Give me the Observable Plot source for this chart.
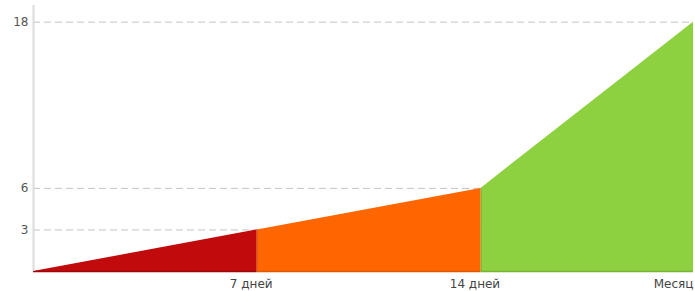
<!DOCTYPE html>
<html><head><meta charset="utf-8">
<script src="https://cdn.jsdelivr.net/npm/d3@7"></script>
<script src="https://cdn.jsdelivr.net/npm/@observablehq/plot@0.6"></script>
<style>
html,body{margin:0;padding:0;background:#fff;}
#chart svg{display:block;}
</style>
</head><body><div id="chart"></div>
<script>
// x positions (days; the "month" point)
const xPositions = [0, 7, 14, 20.65];
const xLabels = ["", "7 дней", "14 дней", "Месяц"];
const values = [0, 3, 6, 18];
const yTicks = [3, 6, 18];
const segmentColors = ["#c00a0c", "#ff6600", "#8dd040"];
const segmentStrokes = ["#a00608", "#e05800", "#78b534"];

const segs = [];
for (let i = 0; i < 3; i++) {
  segs.push({seg: i, x: xPositions[i], y: values[i]});
  segs.push({seg: i, x: xPositions[i + 1], y: values[i + 1]});
}
const labelData = xPositions.map((x, i) => ({x, label: xLabels[i]})).filter(d => d.label);
const midLabels = labelData.slice(0, -1);
const lastLabel = labelData.slice(-1);

const font = "'DejaVu Sans', Verdana, sans-serif";
const chart = Plot.plot({
  width: 695,
  height: 291,
  marginLeft: 33,
  marginRight: 2,
  marginTop: 5,
  marginBottom: 20,
  style: {fontFamily: font, fontSize: "12px", color: "#555", background: "#fff"},
  x: {domain: [0, 20.65], axis: null},
  y: {domain: [0, 19.2], axis: null},
  marks: [
    Plot.gridY(yTicks, {stroke: "#c4c4c4", strokeOpacity: 1, strokeDasharray: "7,4", strokeWidth: 1}),
    Plot.area(segs, {x1: "x", y1: 0, y2: "y", z: "seg", fill: d => segmentColors[d.seg], curve: "linear"}),
    ...[0, 1, 2].map(i => Plot.ruleY([0], {x1: xPositions[i], x2: xPositions[i + 1], stroke: segmentStrokes[i], strokeWidth: 1.5})),
    Plot.ruleX([xPositions[1], xPositions[2]], {y1: 0, y2: (d, i) => values[i + 1], stroke: "#b84a10", strokeWidth: 1, strokeOpacity: 0.45}),
    Plot.ruleX([0], {stroke: "#dcdcdc", strokeWidth: 2}),
    Plot.axisY(yTicks, {tickSize: 0, tickPadding: 5, fill: "#555", fontSize: 12, label: null}),
    Plot.text(midLabels, {x: "x", y: 0, text: "label", lineAnchor: "top", dy: 8, dx: -6, fill: "#444", fontSize: 12}),
    Plot.text(lastLabel, {x: "x", y: 0, text: "label", lineAnchor: "top", dy: 8, textAnchor: "end", fill: "#444", fontSize: 12})
  ]
});
document.getElementById("chart").appendChild(chart);
</script>
</body></html>
